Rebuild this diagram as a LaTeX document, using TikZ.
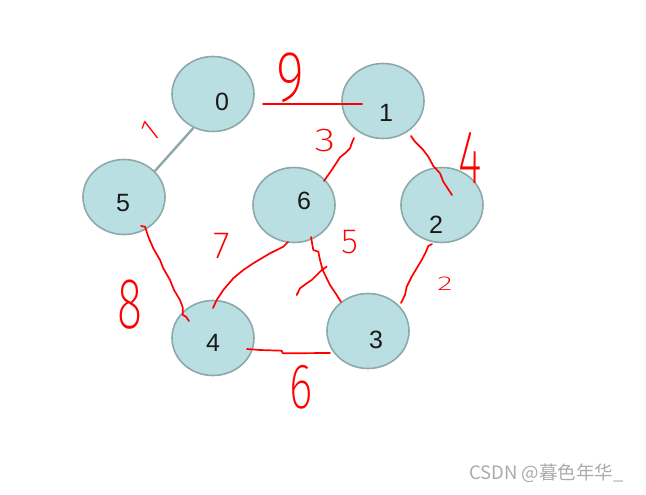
\documentclass[tikz,border=0pt]{standalone}
\usepackage{fontspec}
\setmainfont{Liberation Sans}
\newfontfamily\hand{Fira Sans ExtraLight}
\newfontfamily\cjk{Noto Sans CJK SC}
\usetikzlibrary{shapes.geometric,calc}
\definecolor{nodefill}{HTML}{BADFE3}
\definecolor{nodeline}{HTML}{8DA8A9}
\definecolor{penred}{HTML}{FF0000}
\definecolor{wmark}{HTML}{ABABAB}
\tikzset{
  vert/.style={ellipse,draw=nodeline,fill=nodefill,line width=1.6pt,minimum width=82pt,minimum height=75pt,inner sep=0pt},
  vlabel/.style={inner sep=0pt,font=\fontsize{25}{25}\selectfont,text=black!90},
  pen/.style={draw=penred,line width=1.7pt,line join=round,line cap=round},
  hand/.style={inner sep=0pt,text=penred},
  grayedge/.style={draw=nodeline,line width=2.4pt}
}
\begin{document}
\begin{tikzpicture}[x=1pt,y=-1pt]
\useasboundingbox (0,0) rectangle (646,495);
% vertices
\node[vert] (n0) at (213,94) {};
\node[vert] (n1) at (383,101) {};
\node[vert] (n5) at (124,197) {};
\node[vert] (n6) at (294,205) {};
\node[vert] (n2) at (442,205) {};
\node[vert] (n4) at (213,338) {};
\node[vert] (n3) at (368,331) {};
% vertex labels
\node[vlabel] (t0) at ($(n0)+(9,8)$) {0};
\node[vlabel] (t1) at ($(n1)+(3,12)$) {1};
\node[vlabel] (t5) at ($(n5)+(-1,6)$) {5};
\node[vlabel] (t6) at ($(n6)+(10,-4)$) {6};
\node[vlabel] (t2) at ($(n2)+(-6,20)$) {2};
\node[vlabel] (t4) at ($(n4)+(0,5)$) {4};
\node[vlabel] (t3) at ($(n3)+(8,9)$) {3};
% gray edge 0-5
\draw[grayedge] (n0.-120) -- (n5.40);
% red hand-drawn edges
\draw[pen] ($(n0)+(50,10)$) -- ($(n1)+(-21,3)$);
\draw[pen] ($(n1)+(-29,37)$) -- (351.7,143.3) -- (350,148.3) -- (345,153.3) -- (340,157.3) -- (335,165) -- (331.7,170) -- ($(n6)+(30,-24)$);
\draw[pen] ($(n1)+(28,35)$) -- (415,141.7) -- (423.3,150) -- (428.3,156.7) -- (433.3,166) -- (440,173.3) -- (443.3,181.7) -- ($(n2)+(10,-10)$);
\draw[pen] ($(n5)+(17,29)$) -- (145,226.7) -- (148.3,236.7) -- (153.3,248.3) -- (160,260) -- (163.3,268.3) -- (170,280) -- (174,290) -- (180,300) -- (182.7,307.3) -- (182.7,315) -- (186,316.7) -- ($(n4)+(-24,-17)$);
\draw[pen] ($(n6)+(-6,37)$) -- (283.3,246.7) -- (270,253.3) -- (253.3,263.3) -- (243.3,270) -- (233.3,278.3) -- (223.3,290) -- (216.7,300) -- ($(n4)+(0,-30)$);
\draw[pen] ($(n6)+(17,32)$) -- (313.3,250) -- (318.3,251.7) -- (320,260) -- (322.7,270) -- (326.7,278.3) -- (330,285) -- (336.7,295) -- ($(n3)+(-27,-29)$);
\draw[pen] (296.7,295) -- (300,288.3) -- (306.7,283.3) -- (311.7,280) -- (316.7,275) -- (321.7,270) -- (326.7,266.7);
\draw[pen] ($(n2)+(-10,39)$) -- (428.3,246) -- (426,251.7) -- (421.7,260) -- (416.7,268.3) -- (411.7,276.7) -- (406.7,286.7) -- (405,295) -- ($(n3)+(33,-28)$);
\draw[pen] ($(n4)+(34,11)$) -- (260,350) -- (281.7,350.7) -- (282.7,353.3) -- ($(n3)+(-38,22)$);
% handwritten weights
\node[hand,font=\hand\fontsize{72}{72}\selectfont,xscale=0.75] (w01) at (290,78) {9};
\node[hand,font=\hand\fontsize{32}{32}\selectfont,rotate=38] (w05) at (150,131) {1};
\node[hand,font=\hand\fontsize{33}{33}\selectfont,xscale=1.3] (w16) at (325,141) {3};
\node[hand,font=\hand\fontsize{76}{76}\selectfont,xscale=0.6] (w12) at (470,158) {4};
\node[hand,font=\hand\fontsize{38}{38}\selectfont] (w64) at (222,246) {7};
\node[hand,font=\hand\fontsize{72}{72}\selectfont,xscale=0.65] (w54) at (130,305) {8};
\node[hand,font=\hand\fontsize{35}{35}\selectfont] (w63) at (350,242) {5};
\node[hand,font=\hand\fontsize{20}{20}\selectfont,xscale=1.6] (w23) at (445,284) {2};
\node[hand,font=\hand\fontsize{64}{64}\selectfont,xscale=0.7] (w43) at (301,387) {6};
% watermark
\node[anchor=west,inner sep=0pt,text=wmark,font=\cjk\fontsize{18.5}{18.5}\selectfont] (wm) at (469,473) {CSDN @暮色年华\_};
\end{tikzpicture}
\end{document}
